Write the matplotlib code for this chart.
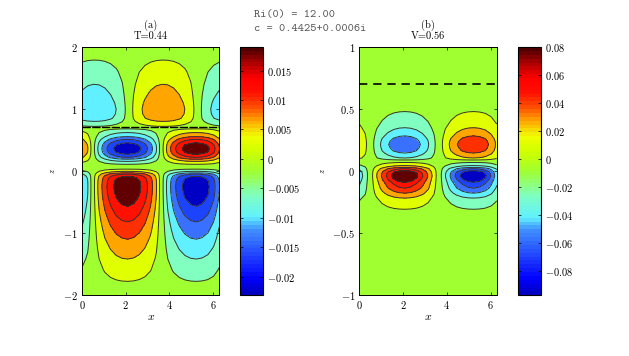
import matplotlib
matplotlib.use("Agg")
import matplotlib.pyplot as plt
import matplotlib.colors as mcolors
import matplotlib.cm as cm
import numpy as np

plt.rcParams["mathtext.fontset"] = "cm"
plt.rcParams["font.family"] = "cmr10"
plt.rcParams["axes.unicode_minus"] = False
plt.rcParams["axes.formatter.use_mathtext"] = True

W, H = 629.0, 356.0

# horizontal structure, read along x
x_vals = [0.0, 0.262, 0.524, 0.785, 1.047, 1.309, 1.571, 1.833, 2.094, 2.356, 2.618, 2.880, 3.142,
          3.403, 3.665, 3.927, 4.189, 4.451, 4.712, 4.974, 5.236, 5.498, 5.760, 6.021, 6.283]
shape_low = [-0.48, -0.30, 0.05, 0.364, 0.594, 0.772, 0.901, 0.977, 1.0, 0.967, 0.881, 0.743, 0.555,
             0.30, -0.05, -0.364, -0.594, -0.772, -0.901, -0.977, -1.0, -0.967, -0.881, -0.72, -0.48]
shape_top = [-0.867, -0.96, -0.998, -0.983, -0.913, -0.79, -0.62, -0.39, -0.10, 0.28, 0.53, 0.72, 0.867,
             0.96, 0.998, 0.983, 0.913, 0.79, 0.62, 0.39, 0.10, -0.28, -0.53, -0.72, -0.867]

# panel (a), amplitude against z
za_low = [-2.0, -1.9, -1.78, -1.6, -1.42, -1.25, -1.1, -0.95, -0.82, -0.68, -0.57, -0.45, -0.35, -0.25, -0.17,
          -0.12, -0.085, -0.05, -0.03, -0.005, 0.03, 0.06,
          0.108, 0.155, 0.19, 0.22, 0.27, 0.30, 0.33, 0.36, 0.39, 0.42, 0.455, 0.51, 0.555, 0.62, 0.68, 0.71]
ta_low = [0.0, 0.001, 0.002, 0.0037, 0.0055, 0.0073, 0.009, 0.0108, 0.0125, 0.0145, 0.016, 0.0176, 0.0186, 0.019, 0.0186,
          0.0176, 0.016, 0.0125, 0.009, 0.0055, 0.002, 0.0,
          -0.002, -0.0055, -0.009, -0.0125, -0.016, -0.0178, -0.0186, -0.019, -0.0186, -0.0178, -0.016, -0.0125,
          -0.009, -0.0055, -0.002, 0.0]
za_top = [0.715, 0.72, 0.76, 0.8, 0.85, 0.92, 1.0, 1.1, 1.25, 1.4, 1.6, 1.79, 1.9, 2.0]
ta_top = [0.0, 0.002, 0.0035, 0.0055, 0.0075, 0.0085, 0.0088, 0.0082, 0.0068, 0.0055, 0.0037, 0.002, 0.001, 0.0]
levels_a = [-0.016, -0.0125, -0.009, -0.0055, -0.002, 0.002, 0.0055, 0.009, 0.0125, 0.016]

# panel (b), amplitude against z
zb = [-1.0, -0.6, -0.5, -0.42, -0.36, -0.307, -0.26, -0.217, -0.177, -0.137, -0.11, -0.09, -0.07, -0.05, -0.04, -0.02,
      -0.005, 0.004, 0.02, 0.03, 0.045, 0.07, 0.08,
      0.09, 0.106, 0.146, 0.165, 0.19, 0.215, 0.24, 0.262, 0.284, 0.35, 0.41, 0.48, 0.55, 0.62, 0.7, 1.0]
vb = [0.0, 0.0, 0.001, 0.003, 0.0065, 0.012, 0.0205, 0.03, 0.045, 0.058, 0.0635, 0.068, 0.074, 0.078, 0.08, 0.078,
      0.074, 0.068, 0.058, 0.045, 0.03, 0.012, 0.0,
      -0.012, -0.03, -0.045, -0.051, -0.055, -0.057, -0.055, -0.051, -0.045, -0.03, -0.02, -0.012, -0.005, -0.001, 0.0, 0.0]
levels_b = [-0.068, -0.058, -0.045, -0.03, -0.012, 0.012, 0.03, 0.045, 0.058, 0.068]

fill_colors = ["#0000c4", "#1c44ff", "#3a70ff", "#60f0ff", "#80ffc0", "#a0ff30",
               "#e0ff00", "#ffa500", "#ff3000", "#ff1000", "#600000"]

# colour bar stops
bar_pos = [0.0, 0.06, 0.15, 0.26, 0.31, 0.40, 0.50, 0.58, 0.64, 0.71, 0.76, 0.82, 0.88, 0.95, 1.0]
bar_col = ["#0000c0", "#0000ff", "#2040ff", "#4090ff", "#60f0ff", "#80ffc0", "#a0ff30", "#d0ff00",
           "#f0ff00", "#ffa000", "#ff5000", "#ff1000", "#ff0000", "#a00000", "#500000"]
bar_map = mcolors.LinearSegmentedColormap.from_list("bar", list(zip(bar_pos, bar_col)), N=64)

ticks_a = [0.015, 0.01, 0.005, 0, -0.005, -0.01, -0.015, -0.02]
labels_a = ["$0.015$", "$0.01$", "$0.005$", "$0$", "$-0.005$", "$-0.01$", "$-0.015$", "$-0.02$"]
ticks_b = [0.08, 0.06, 0.04, 0.02, 0, -0.02, -0.04, -0.06, -0.08]
labels_b = ["$0.08$", "$0.06$", "$0.04$", "$0.02$", "$0$", "$-0.02$", "$-0.04$", "$-0.06$", "$-0.08$"]


def box(fig, left, top, right, bottom):
    return fig.add_axes([left / W, 1 - bottom / H, (right - left) / W, (bottom - top) / H])


def panel(ax, z, field, levels, title, zticks, zlabels, zlabel_x):
    all_levels = [-1.0] + levels + [1.0]
    ax.contourf(x_vals, z, field, levels=all_levels, colors=fill_colors)
    ax.contour(x_vals, z, field, levels=levels, colors="#333333", linewidths=0.7, linestyles="solid")
    ax.set_xlim(0, 2 * np.pi)
    ax.set_xticks([0, 2, 4, 6])
    ax.set_xticklabels(["$0$", "$2$", "$4$", "$6$"])
    ax.set_yticks(zticks)
    ax.set_yticklabels(zlabels)
    ax.tick_params(direction="in", top=True, right=True, length=2, width=0.5, labelsize=7.5, pad=3)
    ax.set_xlabel("$x$", fontsize=8.5, labelpad=1)
    ax.set_ylabel("$z$", fontsize=6)
    ax.yaxis.set_label_coords(zlabel_x, 0.5)
    ax.set_title(title, fontsize=7.5, pad=6, linespacing=1.0)
    for s in ax.spines.values():
        s.set_linewidth(0.7)


def bar(fig, cax, vmin, vmax, ticks, labels):
    sm = cm.ScalarMappable(norm=mcolors.Normalize(vmin, vmax), cmap=bar_map)
    cb = fig.colorbar(sm, cax=cax, ticks=ticks)
    cb.set_ticklabels(labels)
    cb.outline.set_linewidth(0.8)
    cax.tick_params(direction="in", left=True, right=True, length=2, width=0.5, labelsize=7.5, pad=3)
    cax.hlines(ticks, vmin, vmax, transform=cax.get_yaxis_transform(), colors="#222222",
               linewidths=0.4, linestyles=":")
    cax.minorticks_off()


fig = plt.figure(figsize=(6.29, 3.56), dpi=100)

# panel (a)
ax1 = box(fig, 82, 47, 219.3, 295)
z_a = za_low + za_top
t_a = np.vstack([np.outer(ta_low, shape_low), np.outer(ta_top, shape_top)])
panel(ax1, z_a, t_a, levels_a, "(a)\nT=0.44", [-2, -1, 0, 1, 2], ["$-2$", "$-1$", "$0$", "$1$", "$2$"], -0.184)
ax1.plot([0, 2 * np.pi], [0.705, 0.705], color="k", lw=1.0, ls=(0, (6, 1)))
ax1.set_ylim(-2, 2)

# panel (b)
ax2 = box(fig, 359.3, 47, 496.7, 295.3)
v_b = np.outer(vb, shape_low)
panel(ax2, zb, v_b, levels_b, "(b)\nV=0.56", [-1, -0.5, 0, 0.5, 1],
      ["$-1$", "$-0.5$", "$0$", "$0.5$", "$1$"], -0.237)
ax2.plot([0, 2 * np.pi], [0.7, 0.7], color="k", lw=1.2, ls=(0, (5, 3.5)))
ax2.set_ylim(-1, 1)

# colour bars
cax1 = box(fig, 240.5, 47, 263, 295)
bar(fig, cax1, -0.0231, 0.019, ticks_a, labels_a)
cax2 = box(fig, 517.7, 47, 540.7, 295.3)
bar(fig, cax2, -0.0974, 0.08, ticks_b, labels_b)

# header
fig.text(254 / W, 1 - 15 / H, "Ri(0) = 12.00", family="cmtt10", fontsize=8.5, color="#555555", va="center")
fig.text(254 / W, 1 - 29 / H, "c = 0.4425+0.0006i", family="cmtt10", fontsize=8.5, color="#555555", va="center")

fig.savefig("out.png", dpi=100)
